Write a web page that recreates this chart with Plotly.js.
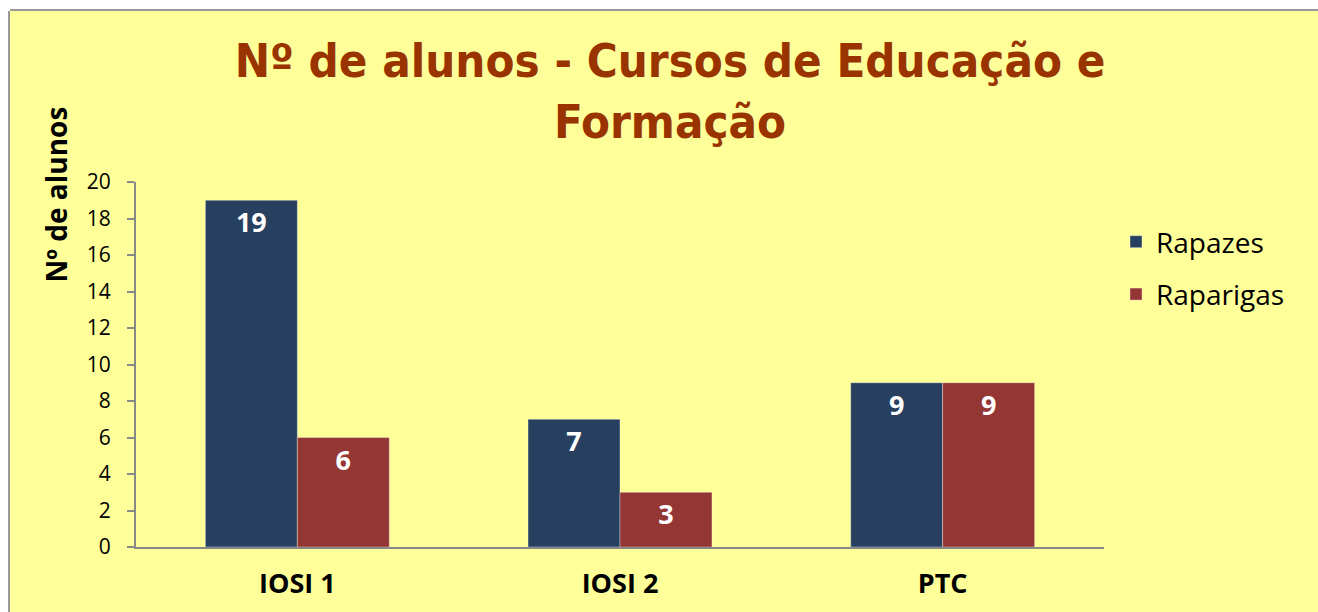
<!DOCTYPE html>
<html><head><meta charset="utf-8">
<script src="https://cdn.plot.ly/plotly-3.0.1.min.js"></script>
<style>
html,body{margin:0;padding:0;background:#fff;overflow:hidden;}
#wrap{position:relative;width:1318px;height:612px;overflow:hidden;}
#chart{width:1318px;height:612px;}
#topstrip{position:absolute;left:0;top:0;width:1318px;height:9px;background:#fff;border-bottom:2px solid #999;}
#leftstrip{position:absolute;left:0;top:0;width:8px;height:612px;background:#fff;border-right:2px solid #999;}
#topfix{position:absolute;left:0;top:0;width:10px;height:11px;background:#fff;}
</style>
</head><body><div id="wrap"><div id="chart"></div><div id="topstrip"></div><div id="leftstrip"></div><div id="topfix"></div></div>
<script>
const categories = ["IOSI 1", "IOSI 2", "PTC"];
const seriesNames = ["Rapazes", "Raparigas"];
const rapazes = [19, 7, 9];
const raparigas = [6, 3, 9];
const yTicks = [0, 2, 4, 6, 8, 10, 12, 14, 16, 18, 20];
const titleText = "Nº de alunos - Cursos de Educação e<br>Formação";
const yTitle = "Nº de alunos";

const font = "'Open Sans', 'DejaVu Sans', sans-serif";
const mk = (name, vals, color, grp) => ({
  type: 'bar', name: name, x: categories, y: vals, legendgroup: grp,
  marker: {color: color, line: {color: 'rgba(255,255,255,0.35)', width: 1}},
  text: vals.map(String), textposition: 'inside', insidetextanchor: 'end',
  textfont: {color: '#ffffff', size: 27, family: font, weight: 'bold'},
  hoverinfo: 'none'
});
const data = [mk(seriesNames[0], rapazes, '#27405F', 'a'), mk(seriesNames[1], raparigas, '#943634', 'b')];

// pixel -> paper helpers (plot area: x 135.5..1104.5, y 182..547)
const px = v => (v - 135.5) / 969;
const py = v => (547 - v) / 365;

const layout = {
  width: 1318, height: 612,
  margin: {l: 135.5, r: 213.5, t: 182, b: 65, pad: 0},
  paper_bgcolor: '#FFFF99', plot_bgcolor: 'rgba(0,0,0,0)',
  barmode: 'group', bargap: 0.43, bargroupgap: 0,
  title: {text: titleText, x: 670/1318, xref: 'container', xanchor: 'center',
          y: 1 - 77/612, yref: 'container', yanchor: 'middle',
          font: {family: "'DejaVu Sans Condensed', 'DejaVu Sans', sans-serif", size: 47, color: '#993300', weight: 'bold'}},
  xaxis: {showline: true, linecolor: '#888888', linewidth: 2, ticks: '', showgrid: false,
          tickfont: {family: font, size: 27, color: '#000', weight: 'bold'}, ticklabelstandoff: 12, fixedrange: true},
  yaxis: {range: [0, 20], tickvals: yTicks, showline: true, linecolor: '#888888', linewidth: 2,
          ticks: 'outside', ticklen: 7, tickcolor: '#888888', tickwidth: 2, showgrid: false, zeroline: false,
          tickfont: {family: font, size: 21, color: '#000'}, ticklabelstandoff: 12, fixedrange: true},
  legend: {x: 1116/1318, xref: 'container', y: 1 - 217/612, yref: 'container', yanchor: 'top', xanchor: 'left',
           font: {family: font, size: 28, color: '#000'}, bgcolor: 'rgba(0,0,0,0)', borderwidth: 0, tracegroupgap: 13, itemwidth: 30},
  annotations: [{text: yTitle, textangle: -90, xref: 'paper', yref: 'paper',
                 x: px(55), y: py(195), xanchor: 'center', yanchor: 'middle', showarrow: false,
                 font: {family: font, size: 28, color: '#000', weight: 'bold'}}]
};
Plotly.newPlot('chart', data, layout, {displayModeBar: false, staticPlot: true});
</script></body></html>
